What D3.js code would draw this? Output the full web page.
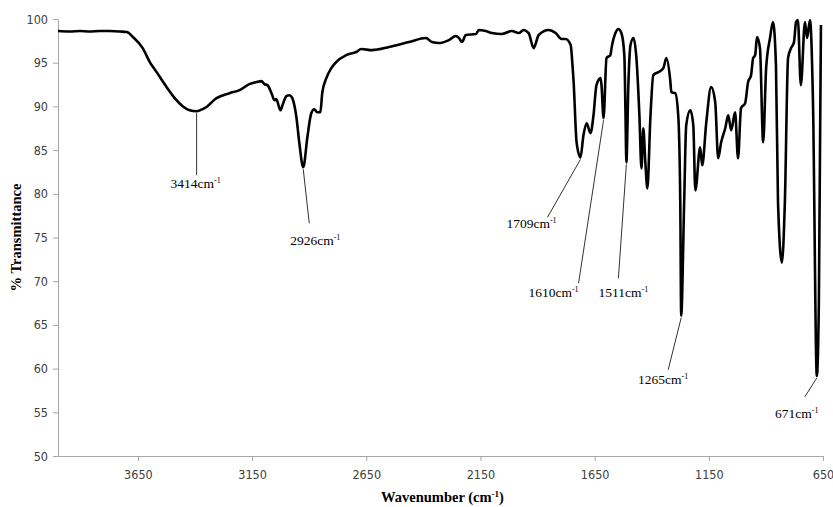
<!DOCTYPE html>
<html>
<head>
<meta charset="utf-8">
<script src="https://d3js.org/d3.v7.min.js"></script>
<style>
  body { margin: 0; background: #fff; }
  .tick text { font-family: "Liberation Sans Narrow", "DejaVu Sans Condensed", "Liberation Sans", sans-serif; font-size: 12.5px; fill: #404040; }
  .ann { font-family: "Liberation Serif", "Times New Roman", serif; font-size: 13.5px; fill: #000; }
  .axis-title { font-family: "Liberation Serif", "Times New Roman", serif; font-size: 14.5px; font-weight: bold; fill: #000; }
</style>
</head>
<body>
<div id="chart"></div>
<script>
// spectrum (wavenumber cm-1, % transmittance)
var wavenumber = [4000, 3948, 3904, 3860, 3817, 3773, 3729, 3699, 3672, 3629, 3598, 3568, 3524, 3489, 3454, 3424, 3393, 3358, 3306, 3249,
  3205, 3162, 3131, 3109, 3096, 3083, 3065, 3052, 3044, 3026, 3017, 3000, 2987, 2974, 2956, 2943, 2926, 2908, 2891, 2878,
  2865, 2851, 2843, 2825, 2803, 2782, 2738, 2694, 2672, 2624, 2550, 2463, 2389, 2362, 2332, 2288, 2258, 2244, 2231, 2214,
  2170, 2157, 2127, 2100, 2057, 2013, 1982, 1961, 1939, 1917, 1895, 1851, 1821, 1795, 1777, 1755, 1747, 1742, 1729, 1712,
  1699, 1685, 1668, 1655, 1642, 1624, 1620, 1611, 1598, 1581, 1576, 1559, 1546, 1533, 1520, 1515, 1511, 1502, 1493, 1480,
  1467, 1454, 1445, 1437, 1428, 1419, 1406, 1393, 1371, 1349, 1336, 1319, 1314, 1297, 1284, 1275, 1271, 1258, 1249, 1231,
  1218, 1209, 1188, 1179, 1161, 1140, 1122, 1109, 1096, 1078, 1065, 1052, 1035, 1022, 1009, 991, 978, 965, 956, 947,
  939, 926, 912, 899, 882, 869, 856, 847, 830, 817, 803, 790, 777, 768, 760, 747, 729, 720, 707, 694,
  677, 668, 659];
var transmittance = [98.62, 98.57, 98.62, 98.57, 98.62, 98.62, 98.57, 98.51, 97.94, 96.67, 95.07, 93.92, 92.20, 90.94, 90.02, 89.56, 89.45, 89.79, 90.94, 91.51,
  91.86, 92.55, 92.78, 92.89, 92.55, 92.43, 91.51, 90.71, 90.83, 89.56, 90.14, 91.17, 91.28, 90.94, 88.76, 85.78, 83.03, 86.47, 89.22, 89.68,
  89.33, 89.33, 91.51, 93.23, 94.38, 95.07, 95.87, 96.22, 96.56, 96.44, 96.79, 97.36, 97.82, 97.36, 97.25, 97.59, 98.05, 97.82, 97.36, 98.17,
  98.28, 98.74, 98.62, 98.39, 98.28, 98.62, 98.39, 98.74, 98.39, 96.67, 98.17, 98.74, 98.39, 97.71, 97.71, 97.02, 94.72, 92.78, 85.89, 84.17,
  86.70, 88.07, 86.93, 88.99, 92.43, 93.23, 92.43, 88.65, 95.53, 95.87, 96.67, 98.39, 98.85, 98.39, 95.87, 89.33, 83.60, 92.78, 97.02, 97.82,
  95.53, 88.99, 82.91, 87.50, 83.60, 80.62, 88.65, 93.58, 93.92, 94.38, 95.53, 93.00, 91.63, 91.51, 88.99, 79.01, 66.05, 79.01, 87.84, 89.56,
  87.84, 80.39, 85.32, 83.26, 88.19, 92.20, 90.48, 84.06, 85.89, 87.50, 88.99, 87.27, 89.33, 84.06, 89.79, 90.37, 92.78, 93.58, 95.53, 95.87,
  97.94, 96.67, 85.89, 94.38, 97.82, 99.66, 94.72, 79.01, 72.13, 79.01, 95.53, 96.67, 97.36, 99.66, 99.89, 92.43, 99.66, 97.82, 99.89, 90.71,
  59.17, 67.77, 99.31];

var xTicks = [3650, 3150, 2650, 2150, 1650, 1150, 650];
var yTicks = [50, 55, 60, 65, 70, 75, 80, 85, 90, 95, 100];

// labelled peaks: label text and where the leader meets the curve
var peakLabels = ["3414", "2926", "1709", "1610", "1511", "1265", "671"];
var peakAnchor = [3393, 2926, 1712, 1611, 1511, 1271, 677];

// set the dimensions and margins of the graph
var margin = {top: 19, right: 10, bottom: 51, left: 58},
    width = 833 - margin.left - margin.right,
    height = 507 - margin.top - margin.bottom;

var svg = d3.select("#chart")
  .append("svg")
    .attr("width", width + margin.left + margin.right)
    .attr("height", height + margin.top + margin.bottom)
  .append("g")
    .attr("transform", "translate(" + margin.left + "," + margin.top + ")");

var x = d3.scaleLinear().domain([4000, 650]).range([0, width]);
var y = d3.scaleLinear().domain([50, 100]).range([height, 0]);

// X axis
svg.append("g")
  .attr("transform", "translate(0," + height + ")")
  .call(d3.axisBottom(x).tickValues(xTicks).tickSize(5).tickSizeOuter(0).tickPadding(9).tickFormat(d3.format("d")));

// Y axis
svg.append("g")
  .call(d3.axisLeft(y).tickValues(yTicks).tickSize(5).tickSizeOuter(0).tickPadding(5));

svg.selectAll(".domain, .tick line").attr("stroke", "#a6a6a6");

// spectrum
var pts = wavenumber.map(function(d, i) { return [d, transmittance[i]]; });
svg.append("path")
  .datum(pts)
  .attr("fill", "none")
  .attr("stroke", "#000")
  .attr("stroke-width", 2.6)
  .attr("stroke-linejoin", "round")
  .attr("d", d3.line()
    .x(function(d) { return x(d[0]); })
    .y(function(d) { return y(d[1]); })
    .curve(d3.curveMonotoneX));

// value on the curve at a wavenumber
function tAt(wn) {
  for (var i = 0; i < wavenumber.length - 1; i++) {
    if (wn <= wavenumber[i] && wn >= wavenumber[i + 1]) {
      var f = (wavenumber[i] - wn) / (wavenumber[i] - wavenumber[i + 1]);
      return transmittance[i] + f * (transmittance[i + 1] - transmittance[i]);
    }
  }
  return transmittance[transmittance.length - 1];
}

// leader ends and label placements, pixel offsets from the anchor
var leaderOff = [[0, 64], [6, 56], [-33, 60], [-25, 165], [-8, 116], [-13, 54], [-12, 21]];
var textOff = [[-1, 77], [12, 78], [-49, 71], [-50, 179], [-3, 135], [-18, 68], [-20, 42]];

peakLabels.forEach(function(lab, i) {
  var ax = x(peakAnchor[i]), ay = y(tAt(peakAnchor[i])) + 2;
  svg.append("line")
    .attr("x1", ax).attr("y1", ay)
    .attr("x2", ax + leaderOff[i][0]).attr("y2", ay - 2 + leaderOff[i][1])
    .attr("stroke", "#333")
    .attr("stroke-width", 1);
  var t = svg.append("text")
    .attr("class", "ann")
    .attr("text-anchor", "middle")
    .attr("x", ax + textOff[i][0])
    .attr("y", ay - 2 + textOff[i][1]);
  t.append("tspan").text(lab + "cm");
  t.append("tspan").attr("dy", -5).attr("font-size", "8px").text("-1");
});

// axis titles
var xt = svg.append("text")
  .attr("class", "axis-title")
  .attr("text-anchor", "middle")
  .attr("x", width / 2 + 2)
  .attr("y", height + 46);
xt.append("tspan").text("Wavenumber (cm");
xt.append("tspan").attr("dy", -5).attr("font-size", "9px").text("-1");
xt.append("tspan").attr("dy", 5).text(")");

svg.append("text")
  .attr("class", "axis-title")
  .attr("text-anchor", "middle")
  .attr("transform", "translate(" + (-37) + "," + (height / 2) + ") rotate(-90)")
  .text("% Transmittance");
</script>
</body>
</html>
